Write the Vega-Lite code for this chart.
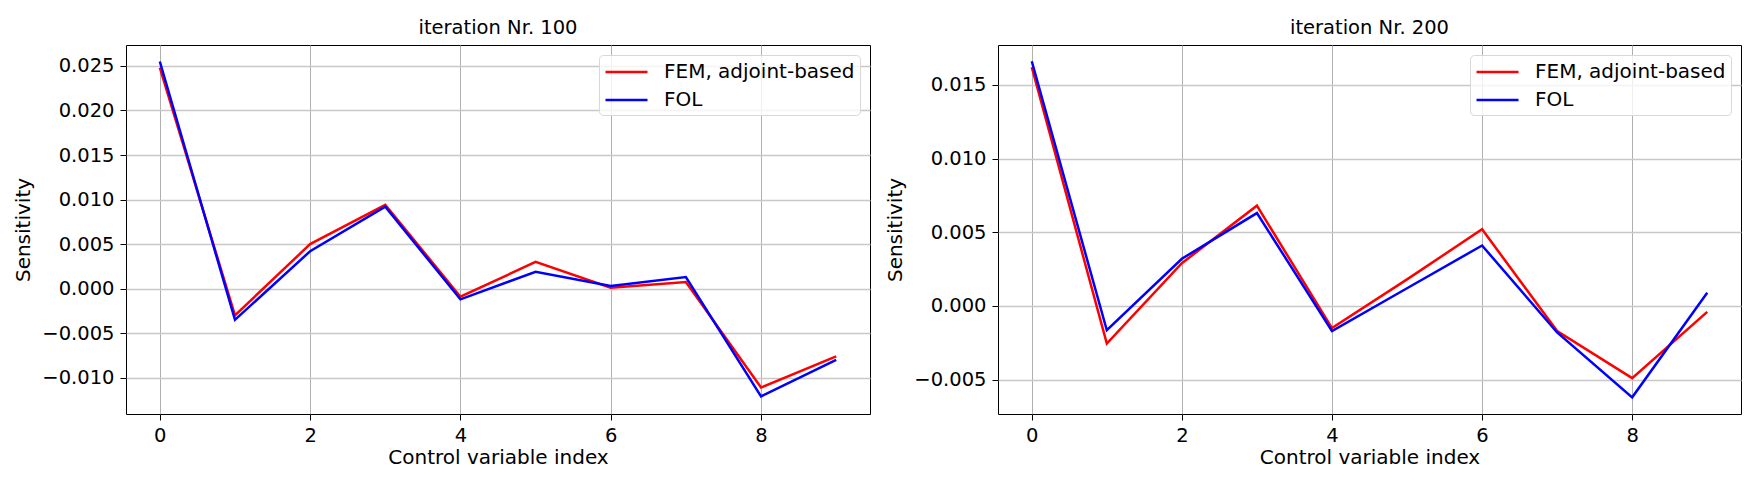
{
  "$schema": "https://vega.github.io/schema/vega-lite/v6.json",
  "padding": {"left": 13, "top": 17, "right": 5, "bottom": 5},
  "background": "white",
  "config": {
    "font": "DejaVu Sans",
    "view": {"stroke": "#000000", "strokeWidth": 1},
    "title": {"font": "DejaVu Sans", "fontSize": 19.5, "fontWeight": "normal", "color": "#000000", "offset": 7},
    "axis": {
      "labelFont": "DejaVu Sans", "labelFontSize": 19.5, "labelColor": "#000000",
      "titleFont": "DejaVu Sans", "titleFontSize": 20, "titleFontWeight": "normal", "titleColor": "#000000",
      "tickColor": "#000000", "tickSize": 6, "labelPadding": 6, "domain": false
    },
    "axisX": {"gridColor": "#b0b0b0", "gridWidth": 1, "titlePadding": 3},
    "axisY": {"gridColor": "#c8c8c8", "gridWidth": 1.5, "titlePadding": 8},
    "legend": {
      "orient": "top-right", "offset": 10,
      "labelFont": "DejaVu Sans", "labelFontSize": 20, "labelColor": "#000000", "labelLimit": 0,
      "symbolType": "M-1,0H3", "symbolSize": 441, "symbolStrokeWidth": 2.5,
      "labelOffset": 36, "rowPadding": 6, "padding": 5,
      "strokeColor": "#d8d8d8", "fillColor": "rgba(255,255,255,0.8)", "cornerRadius": 4,
      "title": null
    }
  },
  "data": {"values": [
    {"iter": 100, "idx": 0, "method": "FEM, adjoint-based", "value": 0.0248},
    {"iter": 100, "idx": 1, "method": "FEM, adjoint-based", "value": -0.0030},
    {"iter": 100, "idx": 2, "method": "FEM, adjoint-based", "value": 0.0050},
    {"iter": 100, "idx": 3, "method": "FEM, adjoint-based", "value": 0.0094},
    {"iter": 100, "idx": 4, "method": "FEM, adjoint-based", "value": -0.0009},
    {"iter": 100, "idx": 5, "method": "FEM, adjoint-based", "value": 0.0030},
    {"iter": 100, "idx": 6, "method": "FEM, adjoint-based", "value": 0.0001},
    {"iter": 100, "idx": 7, "method": "FEM, adjoint-based", "value": 0.00075},
    {"iter": 100, "idx": 8, "method": "FEM, adjoint-based", "value": -0.0111},
    {"iter": 100, "idx": 9, "method": "FEM, adjoint-based", "value": -0.0076},
    {"iter": 100, "idx": 0, "method": "FOL", "value": 0.0255},
    {"iter": 100, "idx": 1, "method": "FOL", "value": -0.0035},
    {"iter": 100, "idx": 2, "method": "FOL", "value": 0.0042},
    {"iter": 100, "idx": 3, "method": "FOL", "value": 0.0092},
    {"iter": 100, "idx": 4, "method": "FOL", "value": -0.0012},
    {"iter": 100, "idx": 5, "method": "FOL", "value": 0.0019},
    {"iter": 100, "idx": 6, "method": "FOL", "value": 0.0003},
    {"iter": 100, "idx": 7, "method": "FOL", "value": 0.0013},
    {"iter": 100, "idx": 8, "method": "FOL", "value": -0.0121},
    {"iter": 100, "idx": 9, "method": "FOL", "value": -0.0080},
    {"iter": 200, "idx": 0, "method": "FEM, adjoint-based", "value": 0.0162},
    {"iter": 200, "idx": 1, "method": "FEM, adjoint-based", "value": -0.00255},
    {"iter": 200, "idx": 2, "method": "FEM, adjoint-based", "value": 0.0029},
    {"iter": 200, "idx": 3, "method": "FEM, adjoint-based", "value": 0.0068},
    {"iter": 200, "idx": 4, "method": "FEM, adjoint-based", "value": -0.0015},
    {"iter": 200, "idx": 5, "method": "FEM, adjoint-based", "value": 0.0018},
    {"iter": 200, "idx": 6, "method": "FEM, adjoint-based", "value": 0.0052},
    {"iter": 200, "idx": 7, "method": "FEM, adjoint-based", "value": -0.0017},
    {"iter": 200, "idx": 8, "method": "FEM, adjoint-based", "value": -0.0049},
    {"iter": 200, "idx": 9, "method": "FEM, adjoint-based", "value": -0.0004},
    {"iter": 200, "idx": 0, "method": "FOL", "value": 0.0166},
    {"iter": 200, "idx": 1, "method": "FOL", "value": -0.00165},
    {"iter": 200, "idx": 2, "method": "FOL", "value": 0.0032},
    {"iter": 200, "idx": 3, "method": "FOL", "value": 0.0063},
    {"iter": 200, "idx": 4, "method": "FOL", "value": -0.0017},
    {"iter": 200, "idx": 5, "method": "FOL", "value": 0.0012},
    {"iter": 200, "idx": 6, "method": "FOL", "value": 0.0041},
    {"iter": 200, "idx": 7, "method": "FOL", "value": -0.0018},
    {"iter": 200, "idx": 8, "method": "FOL", "value": -0.0062},
    {"iter": 200, "idx": 9, "method": "FOL", "value": 0.0009}
  ]},
  "spacing": 14,
  "resolve": {"scale": {"color": "independent", "y": "independent"}, "legend": {"color": "independent"}},
  "hconcat": [
    {
      "title": "iteration Nr. 100",
      "width": 744, "height": 369,
      "transform": [{"filter": "datum.iter == 100"}],
      "mark": {"type": "line", "strokeWidth": 2.5},
      "encoding": {
        "x": {"field": "idx", "type": "quantitative", "title": "Control variable index",
              "scale": {"domain": [-0.45, 9.45], "nice": false, "zero": false},
              "axis": {"values": [0, 2, 4, 6, 8], "format": "d"}},
        "y": {"field": "value", "type": "quantitative", "title": "Sensitivity",
              "scale": {"domain": [-0.01407, 0.02735], "nice": false, "zero": false},
              "axis": {"values": [-0.01, -0.005, 0, 0.005, 0.01, 0.015, 0.02, 0.025], "format": ".3f"}},
        "color": {"field": "method", "type": "nominal",
                  "scale": {"domain": ["FEM, adjoint-based", "FOL"], "range": ["#ff0000", "#0000ff"]}},
        "order": {"field": "idx", "type": "quantitative"}
      }
    },
    {
      "title": "iteration Nr. 200",
      "width": 743, "height": 369,
      "transform": [{"filter": "datum.iter == 200"}],
      "mark": {"type": "line", "strokeWidth": 2.5},
      "encoding": {
        "x": {"field": "idx", "type": "quantitative", "title": "Control variable index",
              "scale": {"domain": [-0.45, 9.45], "nice": false, "zero": false},
              "axis": {"values": [0, 2, 4, 6, 8], "format": "d"}},
        "y": {"field": "value", "type": "quantitative", "title": "Sensitivity",
              "scale": {"domain": [-0.00733, 0.0177], "nice": false, "zero": false},
              "axis": {"values": [-0.005, 0, 0.005, 0.01, 0.015], "format": ".3f"}},
        "color": {"field": "method", "type": "nominal",
                  "scale": {"domain": ["FEM, adjoint-based", "FOL"], "range": ["#ff0000", "#0000ff"]}},
        "order": {"field": "idx", "type": "quantitative"}
      }
    }
  ]
}
